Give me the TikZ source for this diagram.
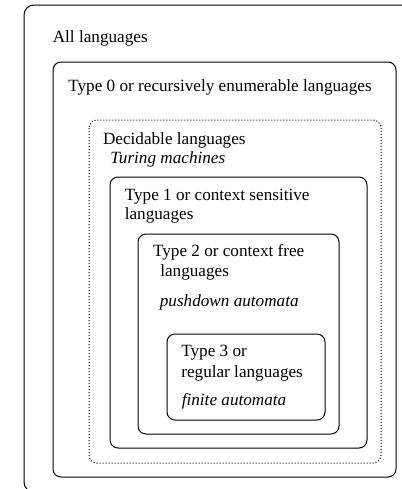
\documentclass[tikz,border=0pt]{standalone}
\usepackage{fontspec}
\setmainfont{Liberation Serif}
\usetikzlibrary{positioning}

\begin{document}
\begin{tikzpicture}[
  x=0.6pt, y=-0.6pt,
  font=\fontsize{10.3}{12}\selectfont,
  set/.style={draw, line width=0.6pt, rounded corners=4.8pt},
  dots/.style={set, dash pattern=on 0.6pt off 1.2pt},
  lbl/.style={anchor=base west, inner sep=0pt},
  mach/.style={lbl, font=\fontsize{10.3}{12}\selectfont\itshape}
]
  \useasboundingbox (0,0) rectangle (402,489);
  \clip (0,0) rectangle (402,489);
  % nested classes of languages
  \draw[set, rounded corners=6pt] (24,5) rectangle (420,492);
  \draw[set] (53,62) rectangle (396,477);
  \draw[dots] (89,120) rectangle (381,463);
  \draw[set] (110,177) rectangle (367,448);
  \draw[set] (138,234) rectangle (339,434);
  \draw[set] (167,334) rectangle (325,420);
  % labels
  \node[lbl] (all) at (52.5,42.3) {All languages};
  \node[lbl] (t0) at (68,91.5) {Type 0 or recursively enumerable languages};
  \node[lbl] (dec) at (102.7,144) {Decidable languages};
  \node[mach] (tm) at (110,163) {Turing machines};
  \node[lbl] (t1) at (124.5,200) {Type 1 or context sensitive};
  \node[lbl] (t1b) at (124.5,219.5) {languages};
  \node[lbl] (t2) at (152.7,256.7) {Type 2 or context free};
  \node[lbl] (t2b) at (160,276.5) {languages};
  \node[mach] (pda) at (159.5,306) {pushdown automata};
  \node[lbl] (t3) at (181,356.7) {Type 3 or};
  \node[lbl] (t3b) at (181,377) {regular languages};
  \node[mach] (fa) at (181.5,405) {finite automata};
\end{tikzpicture}
\end{document}
